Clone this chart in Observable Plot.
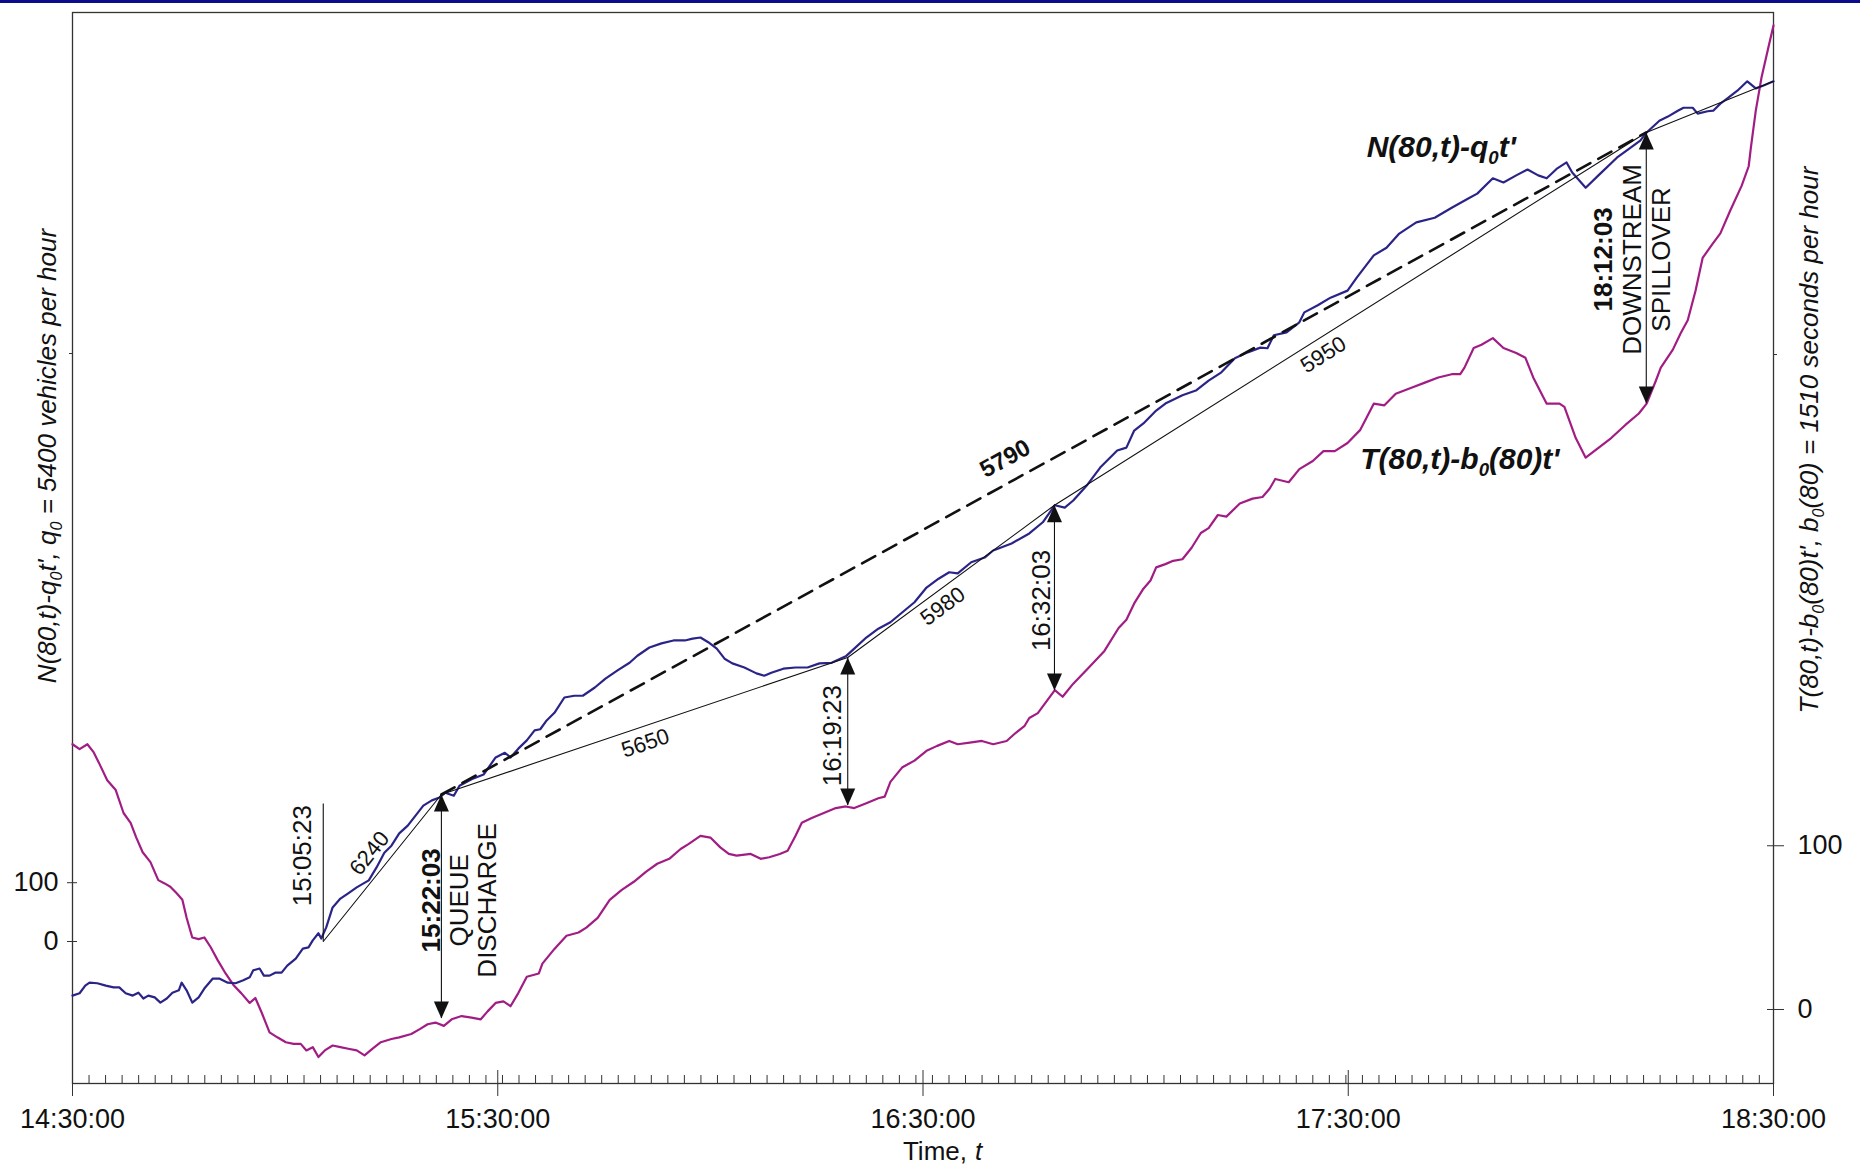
<!DOCTYPE html>
<html>
<head>
<meta charset="utf-8">
<script src="https://cdn.jsdelivr.net/npm/d3@7"></script>
<script src="https://cdn.jsdelivr.net/npm/@observablehq/plot@0.6"></script>
<style>
  html, body { margin: 0; padding: 0; background: #fff; }
  #chart { position: absolute; left: 0; top: 0; }
  #topbar { position: absolute; left: 0; top: 0; width: 1860px; height: 3px; background: #0b0b8c; }
</style>
</head>
<body>
<div id="chart"></div>
<div id="topbar"></div>
<script>
// ---------------- DATA (minutes after 14:30:00) ----------------
// N(80,t) - q0 t'  (left axis, vehicles)
const blueMinutes = [0,1.0,1.8,2.4,3.5,4.7,5.8,6.6,7.5,8.5,
  9.3,10.0,10.7,11.6,12.4,13.3,14.1,15.0,15.4,16.1,
  16.9,17.8,18.6,19.8,20.7,21.9,23.0,24.1,25.0,25.5,
  26.4,27.0,27.8,28.6,29.5,30.3,31.5,32.5,33.3,33.9,
  34.7,35.1,35.8,36.7,37.8,38.9,40.1,41.8,42.9,44.0,
  45.0,46.1,47.3,48.4,49.5,50.7,51.8,52.6,53.8,54.6,
  56.3,58.0,59.7,61.0,61.8,62.9,64.1,65.2,66.0,66.9,
  68.0,69.4,70.8,72.0,73.7,75.2,76.9,78.6,79.7,81.4,
  83.1,84.8,86.4,87.5,88.6,89.7,90.9,92.0,93.1,94.8,
  96.5,97.6,98.6,100.3,102.0,103.7,105.4,107.1,109.1,110.3,
  112.0,113.7,115.4,117.1,118.8,120.5,122.2,123.7,124.9,126.8,
  128.7,129.9,132.5,135.0,136.9,138.6,140.0,141.2,143.2,145.0,
  147.4,148.7,149.8,151.1,152.9,154.2,156.6,158.5,160.3,162.1,
  164.0,165.8,167.6,168.6,169.5,171.3,173.1,173.8,175.7,177.5,
  179.9,181.2,183.6,185.4,187.2,189.6,192.2,194.6,197.0,198.2,
  200.4,201.9,203.7,205.3,206.8,208.0,209.5,210.8,211.6,213.5,
  215.3,217.9,219.7,221.2,222.1,223.9,225.1,226.5,227.3,228.6,
  229.3,230.7,231.5,232.5,233.5,234.9,236.3,237.5,238.6,240.0];
const blueValues = [-92,-88,-75,-70,-71,-75,-78,-78,-88,-92,
  -87,-97,-92,-95,-104,-97,-87,-83,-70,-83,
  -104,-95,-80,-63,-63,-70,-71,-66,-61,-49,
  -46,-58,-58,-53,-53,-41,-29,-12,-10,2,
  14,5,24,58,73,82,92,104,126,151,
  163,184,197,214,231,240,245,253,248,265,
  276,284,313,321,313,328,342,359,361,376,
  389,415,418,418,432,447,461,474,486,500,
  507,512,512,515,517,509,498,481,473,466,
  456,452,457,464,466,466,473,474,485,498,
  517,532,543,560,577,602,617,628,626,645,
  653,665,677,694,713,742,738,750,777,806,
  835,840,869,881,903,915,929,937,954,968,
  992,1002,1010,1009,1031,1036,1053,1070,1082,1095,
  1107,1129,1167,1180,1204,1223,1231,1248,1264,1272,
  1298,1291,1303,1313,1303,1298,1315,1325,1308,1282,
  1303,1333,1349,1362,1376,1396,1403,1413,1418,1418,
  1408,1412,1413,1425,1434,1447,1463,1451,1456,1463];

// T(80,t) - b0(80) t'  (right axis, seconds)
const magentaMinutes = [0,1.0,2.1,3.0,3.8,4.9,6.1,7.2,8.2,9.0,
  9.9,11.0,12.1,13.0,13.8,14.7,15.5,16.1,16.9,17.8,
  18.6,19.5,20.5,21.6,22.7,23.8,25.0,25.8,26.7,27.8,
  28.9,30.1,31.2,32.2,33.0,33.9,34.7,35.6,36.7,37.8,
  38.9,40.1,41.2,42.3,43.5,45.0,46.1,47.8,49.0,50.1,
  51.2,52.4,53.5,54.9,56.3,57.6,58.6,59.7,60.8,61.8,
  62.9,64.1,65.8,66.3,68.0,69.7,71.4,72.5,74.1,75.8,
  77.5,79.2,80.9,82.5,84.2,85.8,86.9,88.6,90.0,91.4,
  92.6,93.7,95.7,97.1,98.3,99.8,100.9,102.0,102.9,104.3,
  106.0,107.7,109.1,110.3,112.0,113.7,114.6,115.4,117.1,118.8,
  120.5,122.0,123.7,124.9,126.6,128.3,129.9,131.8,133.1,134.3,
  135.0,136.2,137.4,138.6,139.7,141.2,143.2,145.6,147.6,148.7,
  149.8,151.1,152.1,152.9,154.2,155.3,156.6,157.9,159.2,160.3,
  161.6,162.8,164.7,166.5,167.9,168.9,169.7,171.6,173.1,175.0,
  176.5,178.1,179.9,181.7,183.6,185.1,186.7,189.1,190.9,192.7,
  194.6,195.8,196.4,197.7,198.8,200.4,201.9,203.7,205.0,206.1,
  208.0,209.8,210.5,212.1,213.5,215.3,217.1,219.1,221.0,222.1,
  223.4,224.1,225.8,226.9,227.9,229.0,230.0,231.3,232.5,233.9,
  235.5,236.5,236.8,237.5,238.3,239.3,240.0];
const magentaValues = [162,159,162,157,150,140,134,120,114,105,
  96,90,79,77,75,71,67,56,44,43,
  44,38,30,22,15,10,4,7,-2,-14,
  -17,-20,-21,-21,-25,-23,-29,-25,-22,-23,
  -24,-25,-28,-24,-20,-18,-17,-15,-12,-9,
  -8,-10,-6,-4,-5,-6,-1,4,5,2,
  10,20,22,28,37,45,47,50,56,67,
  73,78,84,89,92,98,101,106,105,99,
  95,94,95,92,93,95,97,106,114,117,
  120,123,124,123,126,129,130,139,148,152,
  158,161,164,162,163,164,162,164,169,173,
  178,181,188,195,191,199,208,219,233,238,
  248,257,262,270,272,274,275,282,291,294,
  302,301,309,312,313,318,324,322,330,335,
  341,341,346,354,370,369,376,380,383,386,
  388,388,392,404,406,410,404,401,398,386,
  370,370,368,349,337,343,349,357,364,370,
  384,392,403,413,421,439,459,467,474,488,
  503,515,526,549,569,588,601];

// Piecewise flow lines (break points on N curve)
const breakMinutes = [35.38, 52.05, 109.38, 138.55, 222.05, 240];
const breakValues  = [0, 250, 483, 742, 1376, 1463];
const segmentRates = ["6240", "5650", "5980", "5950"];
const rateLabelMinutes = [41.9, 80.85, 122.8, 176.5];
const rateLabelValues  = [150, 337, 570, 998];

// Dashed chord
const chordMinutes = [52.05, 222.05];
const chordValues  = [250, 1376];
const chordRate = "5790";
const chordLabelMinute = 131.6, chordLabelValue = 821;

// 15:05:23 marker
const markerMinute = 35.38, markerTop = 234, markerLabel = "15:05:23";
const markerLabelMinute = 32.45, markerLabelValue = 146;

// Double arrows between the curves
const arrowMinutes = [52.05, 109.38, 138.55, 222.05];
const arrowTopValues = [250, 483, 742, 1376];          // on N curve (left axis)
const arrowBottomValues = [-5.5, 124.6, 194.8, 370.1]; // on T curve (right axis)
const arrowLabels = ["15:22:03", "16:19:23", "16:32:03", "18:12:03"];
const arrowLabelBold = [true, false, false, true];
const arrowLabelMinutes = [50.65, 107.2, 136.7, 216.0];
const arrowLabelValues = [70, 350, 580, 1160];
const eventWords = ["QUEUE", "DISCHARGE", "DOWNSTREAM", "SPILLOVER"];
const eventMinutes = [54.6, 58.55, 220.2, 224.2];
const eventValues = [70, 70, 1160, 1160];

// Curve names
const blueName = "N(80,t)-q_0t'";
const blueNameMinute = 182.6, blueNameValue = 1350;
const magentaName = "T(80,t)-b_0(80)t'";
const magentaNameMinute = 181.7, magentaNameValue = 336;

// Axes
const xTickMinutes = [0, 60, 120, 180, 240];
const minorStepSeconds = 140;
const leftTicks = [0, 100];
const leftMinorTicks = [1000];
const rightTicks = [0, 100];
const rightMinorTicks = [400];
const leftTitle = "N(80,t)-q_0t', q_0 = 5400 vehicles per hour";
const rightTitle = "T(80,t)-b_0(80)t', b_0(80) = 1510 seconds per hour";
const xTitleWord = "Time,";
const xTitleVar = "t";

// ---------------- CHART ----------------
const T0 = Date.UTC(2000, 0, 1, 14, 30, 0);
const at = m => new Date(T0 + m * 60000);
const clock = d3.utcFormat("%H:%M:%S");

const leftDomain = [-241.5, 1580];
const rightDomain = [-45.2, 608.9];
const r2l = d3.scaleLinear().domain(rightDomain).range(leftDomain);

const W = 1860, H = 1176, ML = 72, MR = 87, MT = 12, MB = 93;
const kx = (W - ML - MR) / 240;
const ky = (H - MT - MB) / (leftDomain[1] - leftDomain[0]);
const angle = (t1, v1, t2, v2) => Math.atan2(-(v2 - v1) * ky, (t2 - t1) * kx) * 180 / Math.PI;

const BLUE = "#2a2488", MAG = "#a21d83", INK = "#111";

const blue = blueMinutes.map((m, i) => ({t: at(m), v: blueValues[i]}));
const mag = magentaMinutes.map((m, i) => ({t: at(m), v: r2l(magentaValues[i])}));
const flow = breakMinutes.map((m, i) => ({t: at(m), v: breakValues[i]}));
const chord = chordMinutes.map((m, i) => ({t: at(m), v: chordValues[i]}));
const rateLabels = segmentRates.map((s, i) => ({
  t: at(rateLabelMinutes[i]), v: rateLabelValues[i], text: s,
  r: angle(breakMinutes[i], breakValues[i], breakMinutes[i + 1], breakValues[i + 1])
}));
const arrows = arrowMinutes.map((m, i) => ({t: at(m), top: arrowTopValues[i], bottom: r2l(arrowBottomValues[i])}));
const arrowText = arrowLabels.map((s, i) => ({t: at(arrowLabelMinutes[i]), v: arrowLabelValues[i], text: s, bold: arrowLabelBold[i]}));
const words = eventWords.map((s, i) => ({t: at(eventMinutes[i]), v: eventValues[i], text: s}));

const hourTicks = xTickMinutes.map(at);
const minorTicks = d3.range(0, 240 * 60 + 1, minorStepSeconds).map(s => at(s / 60));

const triUp = {draw(ctx) { ctx.moveTo(0, 0); ctx.lineTo(7.5, 17); ctx.lineTo(-7.5, 17); ctx.closePath(); }};
const triDown = {draw(ctx) { ctx.moveTo(0, 0); ctx.lineTo(7.5, -17); ctx.lineTo(-7.5, -17); ctx.closePath(); }};
const none = () => "";

const plot = Plot.plot({
  width: W, height: H,
  marginLeft: ML, marginRight: MR, marginTop: MT, marginBottom: MB,
  x: {type: "utc", domain: [at(0), at(240)], label: null},
  y: {domain: leftDomain, label: null},
  style: {fontFamily: "'Liberation Sans', Arial, Helvetica, sans-serif", fontSize: "27px", color: INK, background: "#fff"},
  marks: [
    // axes
    Plot.axisX(minorTicks, {tickSize: -8, tickFormat: none, label: null, stroke: "#333"}),
    Plot.axisX(hourTicks, {tickSize: 13, tickPadding: 12, tickFormat: clock, label: null, fontSize: 27, stroke: "#333"}),
    Plot.axisX(hourTicks, {tickSize: -13, tickFormat: none, label: null, stroke: "#333"}),
    Plot.axisY(leftTicks, {anchor: "left", tickSize: 5, tickPadding: 9, label: null, fontSize: 27, stroke: "#333"}),
    Plot.axisY(leftTicks, {anchor: "left", tickSize: -5, tickFormat: none, label: null, stroke: "#333"}),
    Plot.axisY(leftMinorTicks, {anchor: "left", tickSize: 3, tickFormat: none, label: null, stroke: "#333"}),
    Plot.axisY(rightTicks.map(r2l), {anchor: "right", tickSize: 10, tickPadding: 14, label: null, fontSize: 27, stroke: "#333",
      tickFormat: d => String(Math.round(r2l.invert(d)))}),
    Plot.axisY(rightTicks.map(r2l), {anchor: "right", tickSize: -7, tickFormat: none, label: null, stroke: "#333"}),
    Plot.axisY(rightMinorTicks.map(r2l), {anchor: "right", tickSize: 3, tickFormat: none, label: null, stroke: "#333"}),
    Plot.frame({stroke: "#333", strokeWidth: 1.3}),

    // titles
    Plot.text([leftTitle], {frameAnchor: "left", textAnchor: "middle", lineAnchor: "middle", dx: -24.5, dy: -92, rotate: -90,
      fontSize: 26, fontStyle: "italic", fill: INK}),
    Plot.text([rightTitle], {frameAnchor: "right", textAnchor: "middle", lineAnchor: "middle", dx: 36, dy: -108, rotate: -90,
      fontSize: 26, fontStyle: "italic", fill: INK}),
    Plot.text([xTitleWord], {frameAnchor: "bottom", textAnchor: "end", lineAnchor: "middle", dx: 44, dy: 68, fontSize: 26, fill: INK}),
    Plot.text([xTitleVar], {frameAnchor: "bottom", textAnchor: "start", lineAnchor: "middle", dx: 52, dy: 68, fontSize: 26,
      fontStyle: "italic", fill: INK}),

    // curves
    Plot.line(mag, {x: "t", y: "v", stroke: MAG, strokeWidth: 2.2}),
    Plot.line(blue, {x: "t", y: "v", stroke: BLUE, strokeWidth: 2.2}),

    // flow lines
    Plot.line(flow, {x: "t", y: "v", stroke: INK, strokeWidth: 1.1}),
    Plot.line(chord, {x: "t", y: "v", stroke: INK, strokeWidth: 2.6, strokeDasharray: "15,9"}),
    Plot.ruleX([{t: at(markerMinute), y1: 0, y2: markerTop}], {x: "t", y1: "y1", y2: "y2", stroke: INK, strokeWidth: 1.1}),

    // arrows
    Plot.ruleX(arrows, {x: "t", y1: "top", y2: "bottom", stroke: INK, strokeWidth: 1.1}),
    Plot.dot(arrows, {x: "t", y: "top", symbol: triUp, fill: INK, stroke: "none", r: 5}),
    Plot.dot(arrows, {x: "t", y: "bottom", symbol: triDown, fill: INK, stroke: "none", r: 5}),

    // rate labels
    Plot.text(rateLabels, {x: "t", y: "v", text: "text", rotate: "r", fontSize: 22, fill: INK}),
    Plot.text([{t: at(chordLabelMinute), v: chordLabelValue}], {x: "t", y: "v", text: () => chordRate,
      rotate: angle(chordMinutes[0], chordValues[0], chordMinutes[1], chordValues[1]), fontSize: 24, fontWeight: "bold", fill: INK}),
    Plot.text([{t: at(markerLabelMinute), v: markerLabelValue}], {x: "t", y: "v", text: () => markerLabel, rotate: -90, fontSize: 26, fill: INK}),

    // arrow labels
    Plot.text(arrowText.filter(d => d.bold), {x: "t", y: "v", text: "text", rotate: -90, fontSize: 26, fontWeight: "bold", fill: INK}),
    Plot.text(arrowText.filter(d => !d.bold), {x: "t", y: "v", text: "text", rotate: -90, fontSize: 26, fill: INK}),
    Plot.text(words, {x: "t", y: "v", text: "text", rotate: -90, fontSize: 26, fill: INK}),

    // curve names
    Plot.text([{t: at(blueNameMinute), v: blueNameValue}], {x: "t", y: "v", text: () => blueName, textAnchor: "start",
      fontSize: 30, fontWeight: "bold", fontStyle: "italic", fill: INK}),
    Plot.text([{t: at(magentaNameMinute), v: r2l(magentaNameValue)}], {x: "t", y: "v", text: () => magentaName, textAnchor: "start",
      fontSize: 30, fontWeight: "bold", fontStyle: "italic", fill: INK})
  ]
});

// subscripts written as "_0"
const NS = "http://www.w3.org/2000/svg";
plot.querySelectorAll("text").forEach(el => {
  const s = el.textContent;
  if (s.indexOf("_") < 0) return;
  const fs = parseFloat(el.getAttribute("font-size") || el.parentNode.getAttribute("font-size") || 26);
  const shift = 0.22 * fs;
  const parts = s.split(/_(\d)/);
  el.textContent = "";
  let lowered = false;
  parts.forEach((p, i) => {
    if (!p) return;
    const ts = document.createElementNS(NS, "tspan");
    ts.textContent = p;
    if (i % 2 === 1) {
      ts.setAttribute("font-size", (0.62 * fs).toFixed(1));
      ts.setAttribute("dy", shift.toFixed(1));
      lowered = true;
    } else if (lowered) {
      ts.setAttribute("dy", (-shift).toFixed(1));
      lowered = false;
    }
    el.appendChild(ts);
  });
});

document.getElementById("chart").appendChild(plot);
</script>
</body>
</html>
